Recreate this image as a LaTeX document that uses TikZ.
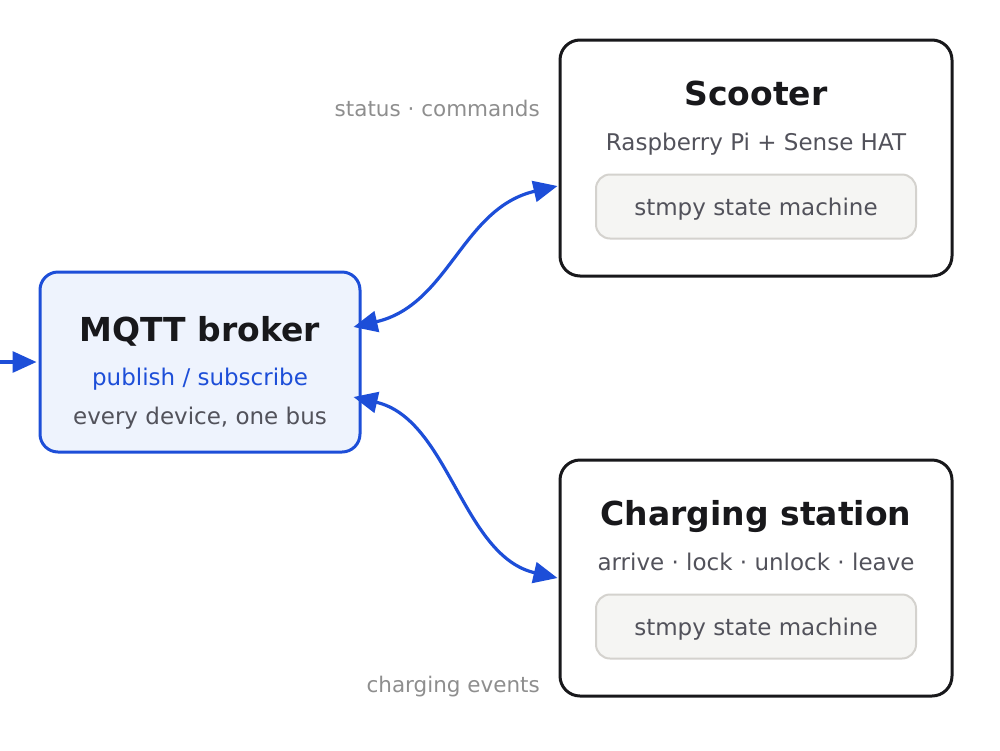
\documentclass[tikz,border=0pt]{standalone}
\usepackage{fontspec}
\setmainfont{DejaVu Sans}
\usepackage{xcolor}
\definecolor{Ink}{HTML}{18181B}
\definecolor{Slate}{HTML}{52525B}
\definecolor{Muted}{HTML}{8E8E8E}
\definecolor{Blue}{HTML}{1D4ED8}
\definecolor{PaleBlue}{HTML}{EEF3FD}
\definecolor{Stone}{HTML}{D4D2CE}
\definecolor{PaleStone}{HTML}{F5F5F3}
\usepackage{tikz}
\usetikzlibrary{arrows.meta,positioning,calc}
\tikzset{
  device/.style={draw=Ink,fill=white,line width=3pt,rounded corners=20pt,
    minimum width=392pt,minimum height=236pt},
  brokerbox/.style={device,draw=Blue,fill=PaleBlue,rounded corners=18pt,
    minimum width=320pt,minimum height=180pt},
  machine/.style={draw=Stone,fill=PaleStone,line width=2pt,rounded corners=14pt,
    minimum width=320pt,minimum height=64pt,text=Slate,
    text height=20pt,text depth=2pt,font=\fontsize{23}{27}\selectfont},
  title/.style={anchor=base,text=Ink,font=\fontsize{33}{40}\selectfont\bfseries},
  sub/.style={anchor=base,text=Slate,font=\fontsize{23}{27}\selectfont},
  note/.style={anchor=base east,inner sep=0pt,text=Muted,font=\fontsize{21.5}{26}\selectfont},
  tip/.tip={Triangle[length=24pt,width=21pt]},
  link/.style={tip-tip,line width=3.2pt,draw=Blue},
  arrow/.style={-tip,line width=3.2pt,draw=Blue}
}

\begin{document}
\begin{tikzpicture}[x=1pt,y=-1pt]
  \useasboundingbox (0,0) rectangle (1000,750);
  % broker
  \node[brokerbox] (broker) at (200,362) {};
  \node[title] (bTitle) at ([yshift=-71pt]broker.north) {MQTT broker};
  \node[sub,text=Blue] (bSub) at ([yshift=-115pt]broker.north) {publish / subscribe};
  \node[sub] (bNote) at ([yshift=-154pt]broker.north) {every device, one bus};
  % scooter
  \node[device] (scooter) at (756,158) {};
  \node[title] (sTitle) at ([yshift=-67pt]scooter.north) {Scooter};
  \node[sub] (sSub) at ([yshift=-112pt]scooter.north) {Raspberry Pi + Sense HAT};
  \node[machine] (sFsm) at ([yshift=-168pt]scooter.north) {stmpy state machine};
  % charging station
  \node[device] (station) at (756,578) {};
  \node[title] (cTitle) at ([yshift=-67pt]station.north) {Charging station};
  \node[sub] (cSub) at ([yshift=-112pt]station.north) {arrive · lock · unlock · leave};
  \node[machine] (cFsm) at ([yshift=-168pt]station.north) {stmpy state machine};
  % labels
  \node[note] (sLabel) at (540,116) {status · commands};
  \node[note] (cLabel) at (540,692) {charging events};
  % connectors
  \coordinate (inlet) at (0,362);
  \draw[arrow] (inlet) -- ([xshift=-2pt]broker.west);
  \draw[link] ([xshift=-8pt,yshift=35pt]broker.east)
    .. controls (449,305) and (462,208) .. ([xshift=-1pt,yshift=-28pt]scooter.west);
  \draw[link] ([xshift=-8pt,yshift=-35pt]broker.east)
    .. controls (449,419) and (462,556) .. ([xshift=-1pt]station.west);
\end{tikzpicture}
\end{document}
